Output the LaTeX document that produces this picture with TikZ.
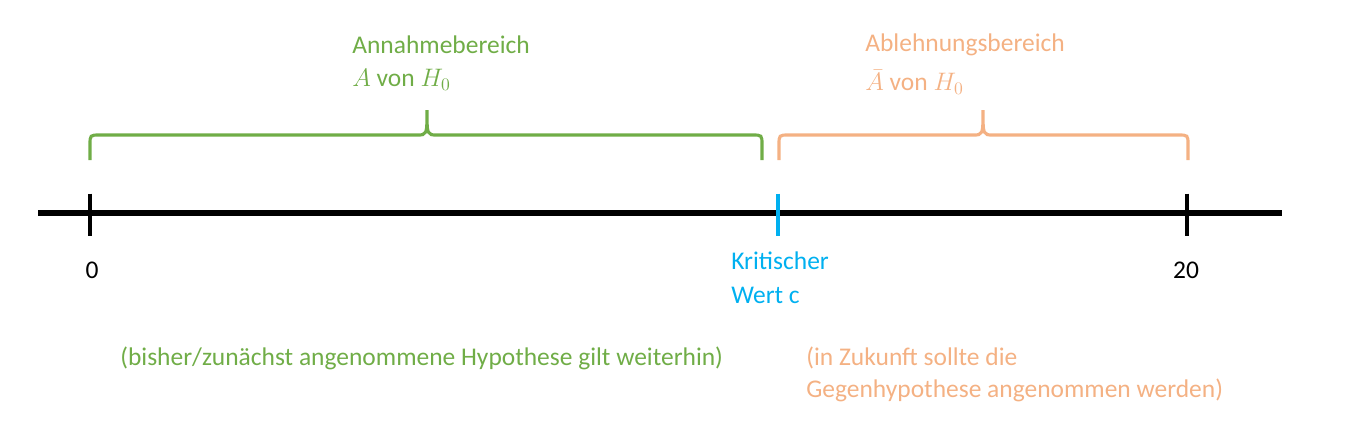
\documentclass[tikz,border=0pt]{standalone}
\usepackage{fontspec}
\setmainfont{Carlito}
\usetikzlibrary{positioning}
\definecolor{annahme}{RGB}{112,173,71}
\definecolor{ablehnung}{RGB}{244,177,131}
\definecolor{kritisch}{RGB}{0,176,240}
\tikzset{
  every node/.style={inner sep=0pt, anchor=west, font=\fontsize{14.5}{17}\selectfont},
  axis/.style={line width=3.4pt},
  tick/.style={line width=1.8pt},
  bracket/.style={line width=1.8pt},
}
\begin{document}
\begin{tikzpicture}[x=0.02cm, y=-0.02cm]
  \useasboundingbox (0,0) rectangle (1345,433);
  % axis and ticks
  \coordinate (left) at (38,213);
  \coordinate (right) at (1282,213);
  \draw[axis] (left) -- (right);
  \coordinate (t0) at (90,213);
  \coordinate (tc) at (778,213);
  \coordinate (t20) at (1187,213);
  \draw[tick] ([yshift=11pt]t0) -- ([yshift=-13pt]t0);
  \draw[tick, kritisch] ([yshift=11pt]tc) -- ([yshift=-13pt]tc);
  \draw[tick] ([yshift=11pt]t20) -- ([yshift=-13pt]t20);

  % braces
  \draw[bracket, annahme] (90,160) -- (90,145) .. controls (90,135) .. (100,135)
    -- (417,135) .. controls (427,135) .. (427,110) .. controls (427,135) .. (437,135)
    -- (752,135) .. controls (762,135) .. (762,145) -- (762,160);
  \draw[bracket, ablehnung] (779,160) -- (779,145) .. controls (779,135) .. (789,135)
    -- (973,135) .. controls (983,135) .. (983,110) .. controls (983,135) .. (993,135)
    -- (1178,135) .. controls (1188,135) .. (1188,145) -- (1188,160);

  % labels
  \node[annahme] (annahme) at (352,45) {Annahmebereich};
  \node[annahme] (avon) at (352,80) {$A$ von $H_0$};
  \node[ablehnung] (ablehnung) at (865,45) {Ablehnungsbereich};
  \node[ablehnung] (abarvon) at (865,82) {$\bar{A}$ von $H_0$};
  \node[anchor=center] (null) at (92,270) {0};
  \node[anchor=center] (zwanzig) at (1186,270) {20};
  \node[kritisch] (krit) at (731,261) {Kritischer};
  \node[kritisch] (wert) at (731,295) {Wert c};
  \node[annahme] (gilt) at (120,358) {(bisher/zunächst angenommene Hypothese gilt weiterhin)};
  \node[ablehnung] (zukunft) at (806,358) {(in Zukunft sollte die};
  \node[ablehnung] (gegen) at (806,390) {Gegenhypothese angenommen werden)};
\end{tikzpicture}
\end{document}
